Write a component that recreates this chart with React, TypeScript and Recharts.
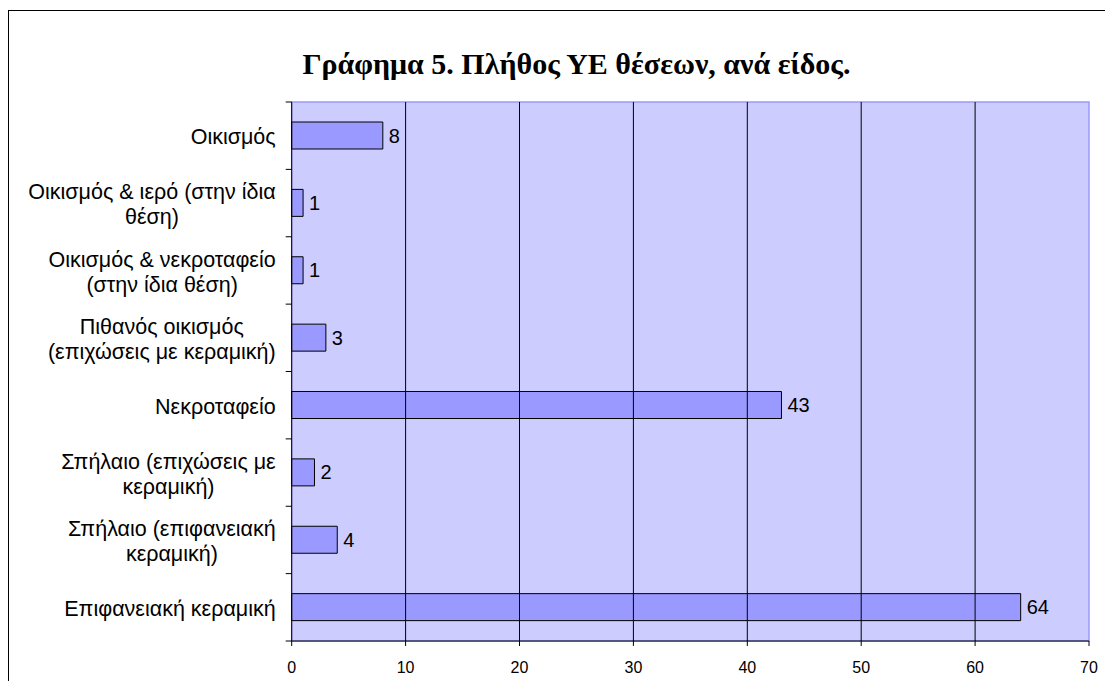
import React from "react";
import {
  BarChart,
  Bar,
  XAxis,
  YAxis,
  ReferenceArea,
  ReferenceLine,
  LabelList,
} from "recharts";

const title = "Γράφημα 5. Πλήθος ΥΕ θέσεων, ανά είδος.";
const categories = [
  "Οικισμός",
  "Οικισμός & ιερό (στην ίδια\nθέση)",
  "Οικισμός & νεκροταφείο\n(στην ίδια θέση)",
  "Πιθανός οικισμός\n(επιχώσεις με κεραμική)",
  "Νεκροταφείο",
  "Σπήλαιο (επιχώσεις με\nκεραμική)",
  "Σπήλαιο (επιφανειακή\nκεραμική)",
  "Επιφανειακή κεραμική",
];
const counts = [8, 1, 1, 3, 43, 2, 4, 64];
const xTicks = [0, 10, 20, 30, 40, 50, 60, 70];
const gridValues = [10, 20, 30, 40, 50, 60];

const data = categories.map((name, i) => ({ name, value: counts[i] }));

const W = 1105;
const H = 673;
const MARGIN = { top: 94, right: 24, bottom: 0, left: 0 };
const Y_AXIS_W = 283.7;
const X_AXIS_H = 40;
const PLOT_H = H - MARGIN.top - MARGIN.bottom - X_AXIS_H;
const BAND = PLOT_H / categories.length;

const LABEL_FONT = 21.5;
const LABEL_FAMILY = "'Liberation Sans', Arial, sans-serif";
const LINE_H = 25;

let ctx: CanvasRenderingContext2D | null = null;
function measure(s: string): number {
  if (!ctx) {
    const c = document.createElement("canvas");
    ctx = c.getContext("2d");
  }
  if (!ctx) return s.length * LABEL_FONT * 0.5;
  ctx.font = `${LABEL_FONT}px ${LABEL_FAMILY}`;
  return ctx.measureText(s).width;
}

const YTick = (props: any) => {
  const { x, y, payload, index } = props;
  const lines = String(payload.value).split("\n");
  const maxW = Math.max(...lines.map(measure));
  const cx = x - 16 - maxW / 2;
  const startY = y + 1 - ((lines.length - 1) * LINE_H) / 2;
  return (
    <g>
      <line x1={x - 6} x2={x} y1={y - BAND / 2} y2={y - BAND / 2} stroke="#000" />
      {index === categories.length - 1 && (
        <line x1={x - 6} x2={x} y1={y + BAND / 2} y2={y + BAND / 2} stroke="#000" />
      )}
      <text
        textAnchor="middle"
        fontSize={LABEL_FONT}
        fontFamily={LABEL_FAMILY}
        fill="#000"
      >
        {lines.map((l, i) => (
          <tspan key={i} x={cx} y={startY + i * LINE_H} dy="0.355em">
            {l}
          </tspan>
        ))}
      </text>
    </g>
  );
};

export default function App() {
  return (
    <div
      style={{
        position: "relative",
        width: W,
        height: H,
        overflow: "hidden",
        background: "#fff",
      }}
    >
      <div
        style={{
          position: "absolute",
          left: 0,
          top: 2,
          right: 0,
          bottom: 0,
          borderLeft: "1px solid #000",
          borderTop: "1px solid #000",
        }}
      />
      <div
        style={{
          position: "absolute",
          left: 168.5,
          width: 800,
          top: 40.5,
          lineHeight: "30px",
          textAlign: "center",
          fontFamily: "'Liberation Serif', 'Times New Roman', serif",
          fontWeight: "bold",
          fontSize: 30,
          color: "#000",
          whiteSpace: "nowrap",
        }}
      >
        {title}
      </div>
      <div style={{ position: "absolute", left: 0, top: 0 }}>
        <BarChart
          width={W}
          height={H}
          data={data}
          layout="vertical"
          margin={MARGIN}
          barSize={27}
        >
          <ReferenceArea
            x1={0}
            x2={70}
            fill="#CCCCFF"
            fillOpacity={1}
            stroke="#9999FF"
            strokeWidth={1.5}
            ifOverflow="visible"
          />
          {gridValues.map((v) => (
            <ReferenceLine key={v} x={v} stroke="#000" strokeWidth={1} />
          ))}
          <XAxis
            type="number"
            domain={[0, 70]}
            ticks={xTicks}
            interval={0}
            height={X_AXIS_H}
            tickSize={5}
            tickMargin={16}
            stroke="#000"
            axisLine={{ stroke: "#000" }}
            tickLine={{ stroke: "#000" }}
            tick={{ fill: "#000", fontSize: 16, fontFamily: LABEL_FAMILY }}
          />
          <YAxis
            type="category"
            dataKey="name"
            width={Y_AXIS_W}
            tickSize={0}
            tickMargin={0}
            tickLine={false}
            axisLine={{ stroke: "#000" }}
            interval={0}
            tick={<YTick />}
          />
          <Bar
            dataKey="value"
            fill="#9999FF"
            stroke="#000"
            strokeWidth={1}
            isAnimationActive={false}
          >
            <LabelList
              dataKey="value"
              position="right"
              offset={6}
              fill="#000"
              fontSize={20}
              fontFamily={LABEL_FAMILY}
            />
          </Bar>
        </BarChart>
      </div>
    </div>
  );
}
